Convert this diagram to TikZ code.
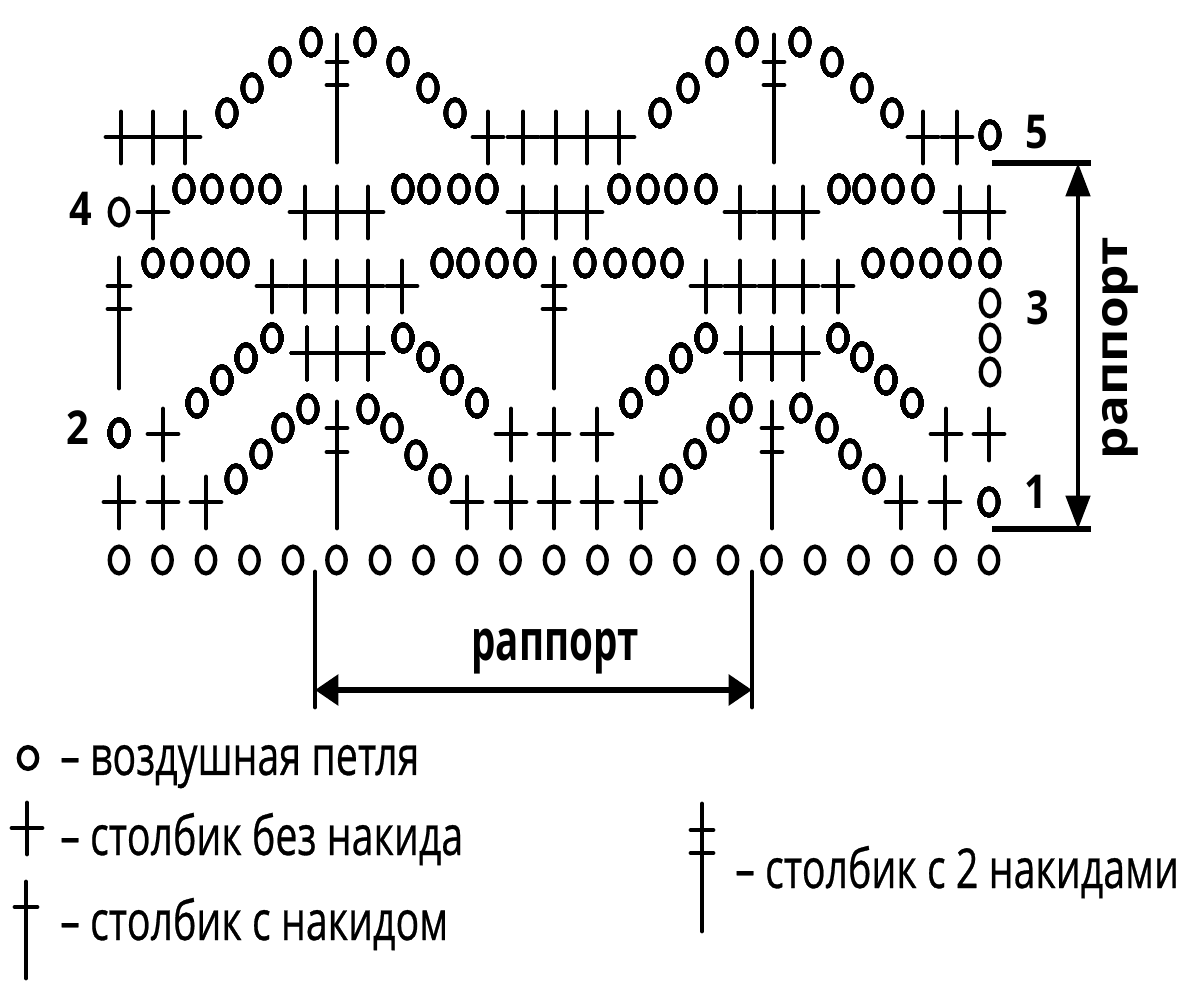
\documentclass[tikz,border=0pt]{standalone}
\usepackage{fontspec}
\setmainfont{Open Sans}
\newfontfamily\legendfont{Open Sans}[FakeBold=0.6]
\usetikzlibrary{shapes.geometric,arrows.meta}
\tikzset{
  vp/.style={ellipse,draw,line width=2.6pt,minimum width=11pt,minimum height=16pt,inner sep=0pt},
  stitchline/.style={line width=2.9pt,line cap=round},
  edgeline/.style={line width=3.6pt},
  vdimline/.style={line width=2.5pt,{Triangle[length=20pt,width=14.5pt]}-{Triangle[length=20pt,width=14.5pt]}},
  hdimline/.style={line width=3.4pt,{Triangle[length=14pt,width=18pt]}-{Triangle[length=14pt,width=18pt]}},
  rownum/.style={font=\bfseries\fontsize{28}{28}\selectfont,inner sep=0pt,transform shape,xscale=0.85},
  legendtext/.style={font=\legendfont\fontsize{33}{33}\selectfont,anchor=base west,inner sep=0pt,transform shape,xscale=0.715},
  repeatlabel/.style={font=\bfseries\fontsize{34}{34}\selectfont,anchor=base,inner sep=0pt,transform shape}
}
% single crochet: one cross
\newcommand{\sbn}[2]{
  \draw[stitchline] (#1-15,#2) -- (#1+15,#2);
  \draw[stitchline] (#1,#2-25) -- (#1,#2+26);
}
% double treble: tall post, two bars
\newcommand{\twobar}[1]{
  \draw[stitchline] (#1,35) -- ++(0,127);
  \draw[stitchline] (#1-10,62) -- (#1+10,62);
  \draw[stitchline] (#1-10,85) -- (#1+10,85);
}
\begin{document}
\begin{tikzpicture}[x=0.6pt,y=-0.6pt]
  \useasboundingbox (0,0) rectangle (1200,1000);

  % foundation chain
  \foreach \i in {0,...,20}
    \node[vp] (f\i) at (119+43.5*\i,560) {};

  % row 1
  \foreach \x in {119,163,206,467,511,554,597,641,901,945}
    \sbn{\x}{502}
  \foreach \x/\y in {236/479,261/454,283/428,308/409,368/409,392/428,416/455,440/479,
                     671/479,695/454,718/428,741/408,801/408,827/428,850/454,874/479,989/502}
    \node[vp] (a\x) at (\x,\y) {};
  \foreach \x in {337,772}{
    \draw[stitchline] (\x,402) -- (\x,528);
    \draw[stitchline] (\x-10,428) -- (\x+10,428);
    \draw[stitchline] (\x-10,452) -- (\x+10,452);
  }

  % row 2
  \foreach \x in {163,511,554,597,946,989}
    \sbn{\x}{434}
  \foreach \x in {307,337,368,741,772,803}
    \sbn{\x}{353}
  \foreach \x/\y in {119/433,197/403,222/380,246/358,272/338,403/338,428/357,452/380,477/403,
                     631/403,657/380,681/358,706/338,838/338,862/357,886/380,912/403}
    \node[vp] (b\x) at (\x,\y) {};

  % row 3
  \foreach \x in {119,554}{
    \draw[stitchline] (\x,258) -- (\x,388);
    \draw[stitchline] (\x-11,286) -- (\x+11,286);
    \draw[stitchline] (\x-11,309) -- (\x+11,309);
  }
  \foreach \x in {272,305,337,368,402,706,740,774,803,838}
    \sbn{\x}{286}
  \foreach \x in {153,182,212,238,442,468,497,525,585,615,644,672,873,902,931,960,990}
    \node[vp] (c\x) at (\x,263) {};
  \foreach \y in {303,338,372}
    \node[vp] (s\y) at (990,\y) {};

  % row 4
  \foreach \x in {153,305,337,368,523,556,587,740,774,803,960,989}
    \sbn{\x}{212}
  \foreach \x in {184,212,242,270,403,429,459,487,619,648,676,706,839,864,893,923}
    \node[vp] (d\x) at (\x,189) {};
  \node[vp] (d119) at (119,212) {};

  % row 5
  \foreach \x in {121,153,185,488,523,556,587,619,923,957}
    \sbn{\x}{137}
  \foreach \x/\y in {227/113,252/88,280/62,311/42,365/42,398/62,428/88,455/113,
                     660/113,688/88,717/62,747/42,800/42,832/62,862/88,892/113,990/135}
    \node[vp] (e\x) at (\x,\y) {};
  \twobar{337}
  \twobar{774}

  % row numbers
  \node[rownum] (r5) at (1037,132) {5};
  \node[rownum] (r4) at (81,209) {4};
  \node[rownum] (r3) at (1038,308) {3};
  \node[rownum] (r2) at (78,428) {2};
  \node[rownum] (r1) at (1036,492) {1};

  % vertical repeat
  \coordinate (vtopl) at (992,163);
  \coordinate (vtopr) at (1091,163);
  \coordinate (vbotl) at (992,529);
  \coordinate (vbotr) at (1091,529);
  \coordinate (vtop) at (1078,163);
  \coordinate (vbot) at (1078,529);
  \draw[edgeline] (vtopl) -- (vtopr);
  \draw[edgeline] (vbotl) -- (vbotr);
  \draw[vdimline] (vtop) -- (vbot);
  \node[repeatlabel,font=\bfseries\fontsize{27}{27}\selectfont,rotate=90,xscale=1.14] (vlabel) at (1127,348) {раппорт};

  % horizontal repeat
  \coordinate (hlt) at (315,572);
  \coordinate (hlb) at (315,707);
  \coordinate (hrt) at (752,572);
  \coordinate (hrb) at (752,707);
  \coordinate (hl) at (315,690);
  \coordinate (hr) at (752,690);
  \draw[stitchline] (hlt) -- (hlb);
  \draw[stitchline] (hrt) -- (hrb);
  \draw[hdimline] (hl) -- (hr);
  \node[repeatlabel,xscale=0.68] (hlabel) at (555,660) {раппорт};

  % legend
  \node[vp,minimum height=13pt] (lvp) at (28,758) {};
  \node[legendtext] (tvp) at (60,775) {– воздушная петля};
  \sbn{27}{828}
  \node[legendtext] (tsbn) at (60,855) {– столбик без накида};
  \draw[stitchline] (26,882) -- (26,978);
  \draw[stitchline] (15,907) -- (37,907);
  \node[legendtext] (tdc) at (60,940) {– столбик с накидом};
  \draw[stitchline] (702,804) -- (702,931);
  \draw[stitchline] (691,830) -- (713,830);
  \draw[stitchline] (691,853) -- (713,853);
  \node[legendtext] (ttr) at (735,888) {– столбик с 2 накидами};
\end{tikzpicture}
\end{document}
